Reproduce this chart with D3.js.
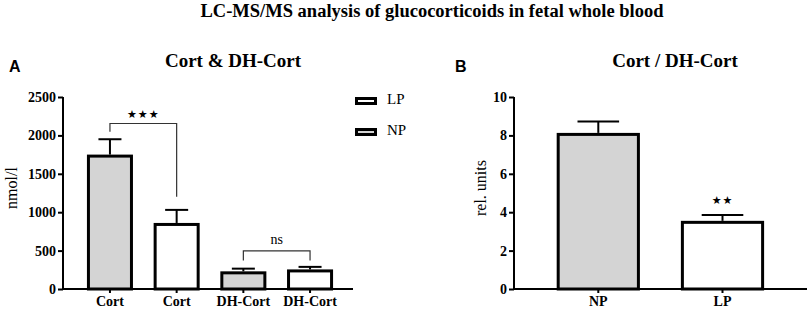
<!DOCTYPE html>
<html>
<head>
<meta charset="utf-8">
<script src="https://cdn.jsdelivr.net/npm/d3@7"></script>
<style>
  body { margin: 0; background: #fff; }
  svg { display: block; }
</style>
</head>
<body>
<svg id="chart" width="811" height="312"></svg>
<script>
// Panel A data
const labelsA = ["Cort", "Cort", "DH-Cort", "DH-Cort"];
const groupsA = ["NP", "LP", "NP", "LP"];
const meansA = [1750, 860, 230, 255];
const semA = [200, 170, 35, 33];
const ticksA = [0, 500, 1000, 1500, 2000, 2500];

// Panel B data
const labelsB = ["NP", "LP"];
const meansB = [8.13, 3.55];
const semB = [0.6, 0.31];
const ticksB = [0, 2, 4, 6, 8, 10];

// legend
const legendGroups = ["LP", "NP"];

// significance brackets (data units): [from, to, top, leftBottom, rightBottom, label]
const bracketsA = [
  [0, 1, 2155, 2046, 1202, "★★★"],
  [2, 3, 497, 371, 371, "ns"]
];

const fill = { NP: "#d4d4d4", LP: "#ffffff" };
const serif = "'Liberation Serif', 'Times New Roman', serif";
const sans = "'Liberation Sans', Arial, sans-serif";

const svg = d3.select("#chart");

// main title
svg.append("text")
  .attr("x", 432).attr("y", 17)
  .attr("text-anchor", "middle")
  .style("font-family", serif).style("font-weight", "bold").style("font-size", "18.5px")
  .text("LC-MS/MS analysis of glucocorticoids in fetal whole blood");

function panel(opts) {
  const g = svg.append("g");
  const y = d3.scaleLinear().domain(opts.domain).range([289, 97]);
  const x = d3.scaleBand()
    .domain(d3.range(opts.labels.length))
    .range(opts.bandRange)
    .paddingInner(opts.pad)
    .paddingOuter(opts.pad / 2);

  // panel letter
  g.append("text")
    .attr("x", opts.letterX).attr("y", 72)
    .style("font-family", sans).style("font-weight", "bold").style("font-size", "16px")
    .text(opts.letter);

  // panel title
  g.append("text")
    .attr("x", opts.titleX).attr("y", 67)
    .attr("text-anchor", "middle")
    .style("font-family", serif).style("font-weight", "bold").style("font-size", "19px")
    .text(opts.title);

  // bars
  const bars = g.selectAll("g.bar")
    .data(opts.means)
    .enter()
    .append("g")
    .attr("class", "bar");

  // error bars (upper only)
  bars.append("line")
    .attr("x1", (d, i) => x(i) + x.bandwidth() / 2)
    .attr("x2", (d, i) => x(i) + x.bandwidth() / 2)
    .attr("y1", d => y(d))
    .attr("y2", (d, i) => y(d + opts.sem[i]))
    .attr("stroke", "#000").attr("stroke-width", 2);

  bars.append("line")
    .attr("x1", (d, i) => x(i) + x.bandwidth() / 4)
    .attr("x2", (d, i) => x(i) + x.bandwidth() * 3 / 4)
    .attr("y1", (d, i) => y(d + opts.sem[i]))
    .attr("y2", (d, i) => y(d + opts.sem[i]))
    .attr("stroke", "#000").attr("stroke-width", 2);

  bars.append("rect")
    .attr("x", (d, i) => x(i) + 1.5)
    .attr("width", x.bandwidth() - 3)
    .attr("y", d => y(d) + 1.5)
    .attr("height", d => y(0) - y(d) - 1.5)
    .attr("fill", (d, i) => fill[opts.groups[i]])
    .attr("stroke", "#000")
    .attr("stroke-width", 3);

  // y axis
  const yAxis = g.append("g")
    .attr("transform", `translate(${opts.axisX0},0)`)
    .call(d3.axisLeft(y).tickValues(opts.ticks).tickSize(5).tickPadding(2).tickFormat(d3.format("d")));
  yAxis.select(".domain").attr("d", `M0,${y(opts.domain[1])}V${y(0)}`).attr("stroke-width", 2);
  yAxis.selectAll(".tick line").attr("stroke-width", 2);
  yAxis.selectAll(".tick text")
    .style("font-family", serif).style("font-weight", "bold").style("font-size", "14px");

  // x axis
  const xAxis = g.append("g")
    .attr("transform", `translate(0,${y(0)})`)
    .call(d3.axisBottom(x).tickSize(4).tickPadding(3).tickFormat(i => opts.labels[i]));
  xAxis.select(".domain").attr("d", `M${opts.axisX0},0H${opts.axisX1}`).attr("stroke-width", 2);
  xAxis.selectAll(".tick line").attr("stroke-width", 2);
  xAxis.selectAll(".tick text")
    .style("font-family", serif).style("font-weight", "bold").style("font-size", "14px");

  // y title
  g.append("text")
    .attr("transform", `translate(${opts.yTitleX},188) rotate(-90)`)
    .attr("text-anchor", "middle")
    .style("font-family", serif).style("font-size", "16px")
    .text(opts.yTitle);

  return { x, y, g };
}

const A = panel({
  letter: "A", letterX: 9, title: "Cort & DH-Cort", titleX: 233,
  labels: labelsA, groups: groupsA, means: meansA, sem: semA, ticks: ticksA,
  domain: [0, 2500], bandRange: [76.6, 343.4], pad: 0.31,
  axisX0: 63, axisX1: 353, yTitle: "nmol/l", yTitleX: 17
});

const B = panel({
  letter: "B", letterX: 455, title: "Cort / DH-Cort", titleX: 675,
  labels: labelsB, groups: labelsB, means: meansB, sem: semB, ticks: ticksB,
  domain: [0, 10], bandRange: [536.2, 784.6], pad: 0.33,
  axisX0: 514, axisX1: 807, yTitle: "rel. units", yTitleX: 486
});

// significance brackets in A
bracketsA.forEach(([i0, i1, top, lb, rb, lab]) => {
  const cx0 = A.x(i0) + A.x.bandwidth() / 2;
  const cx1 = A.x(i1) + A.x.bandwidth() / 2;
  A.g.append("path")
    .attr("d", `M${cx0},${A.y(lb)}V${A.y(top)}H${cx1}V${A.y(rb)}`)
    .attr("fill", "none").attr("stroke", "#333").attr("stroke-width", 1.2);
  const isStar = lab.indexOf("★") >= 0;
  A.g.append("text")
    .attr("x", (cx0 + cx1) / 2)
    .attr("y", A.y(top) - (isStar ? 5 : 7))
    .attr("text-anchor", "middle")
    .style("font-family", isStar ? "'DejaVu Sans', sans-serif" : serif)
    .style("font-size", isStar ? "11px" : "14px")
    .style("letter-spacing", isStar ? "1px" : "0")
    .text(lab);
});

// stars above LP in B
B.g.append("text")
  .attr("x", B.x(1) + B.x.bandwidth() / 2)
  .attr("y", B.y(meansB[1] + semB[1]) - 11)
  .attr("text-anchor", "middle")
  .style("font-family", "'DejaVu Sans', sans-serif")
  .style("font-size", "11px")
  .style("letter-spacing", "1px")
  .text("★★");

// legend
const legend = svg.append("g").attr("transform", "translate(356,98)");
legendGroups.forEach((grp, i) => {
  const row = legend.append("g").attr("transform", `translate(0,${i * 31})`);
  row.append("rect")
    .attr("x", 0.5).attr("y", 0.5).attr("width", 19).attr("height", 5)
    .attr("fill", fill[grp]).attr("stroke", "#000").attr("stroke-width", 3);
  row.append("text")
    .attr("x", 31).attr("y", 6)
    .style("font-family", serif).style("font-size", "15px")
    .text(grp);
});
</script>
</body>
</html>
